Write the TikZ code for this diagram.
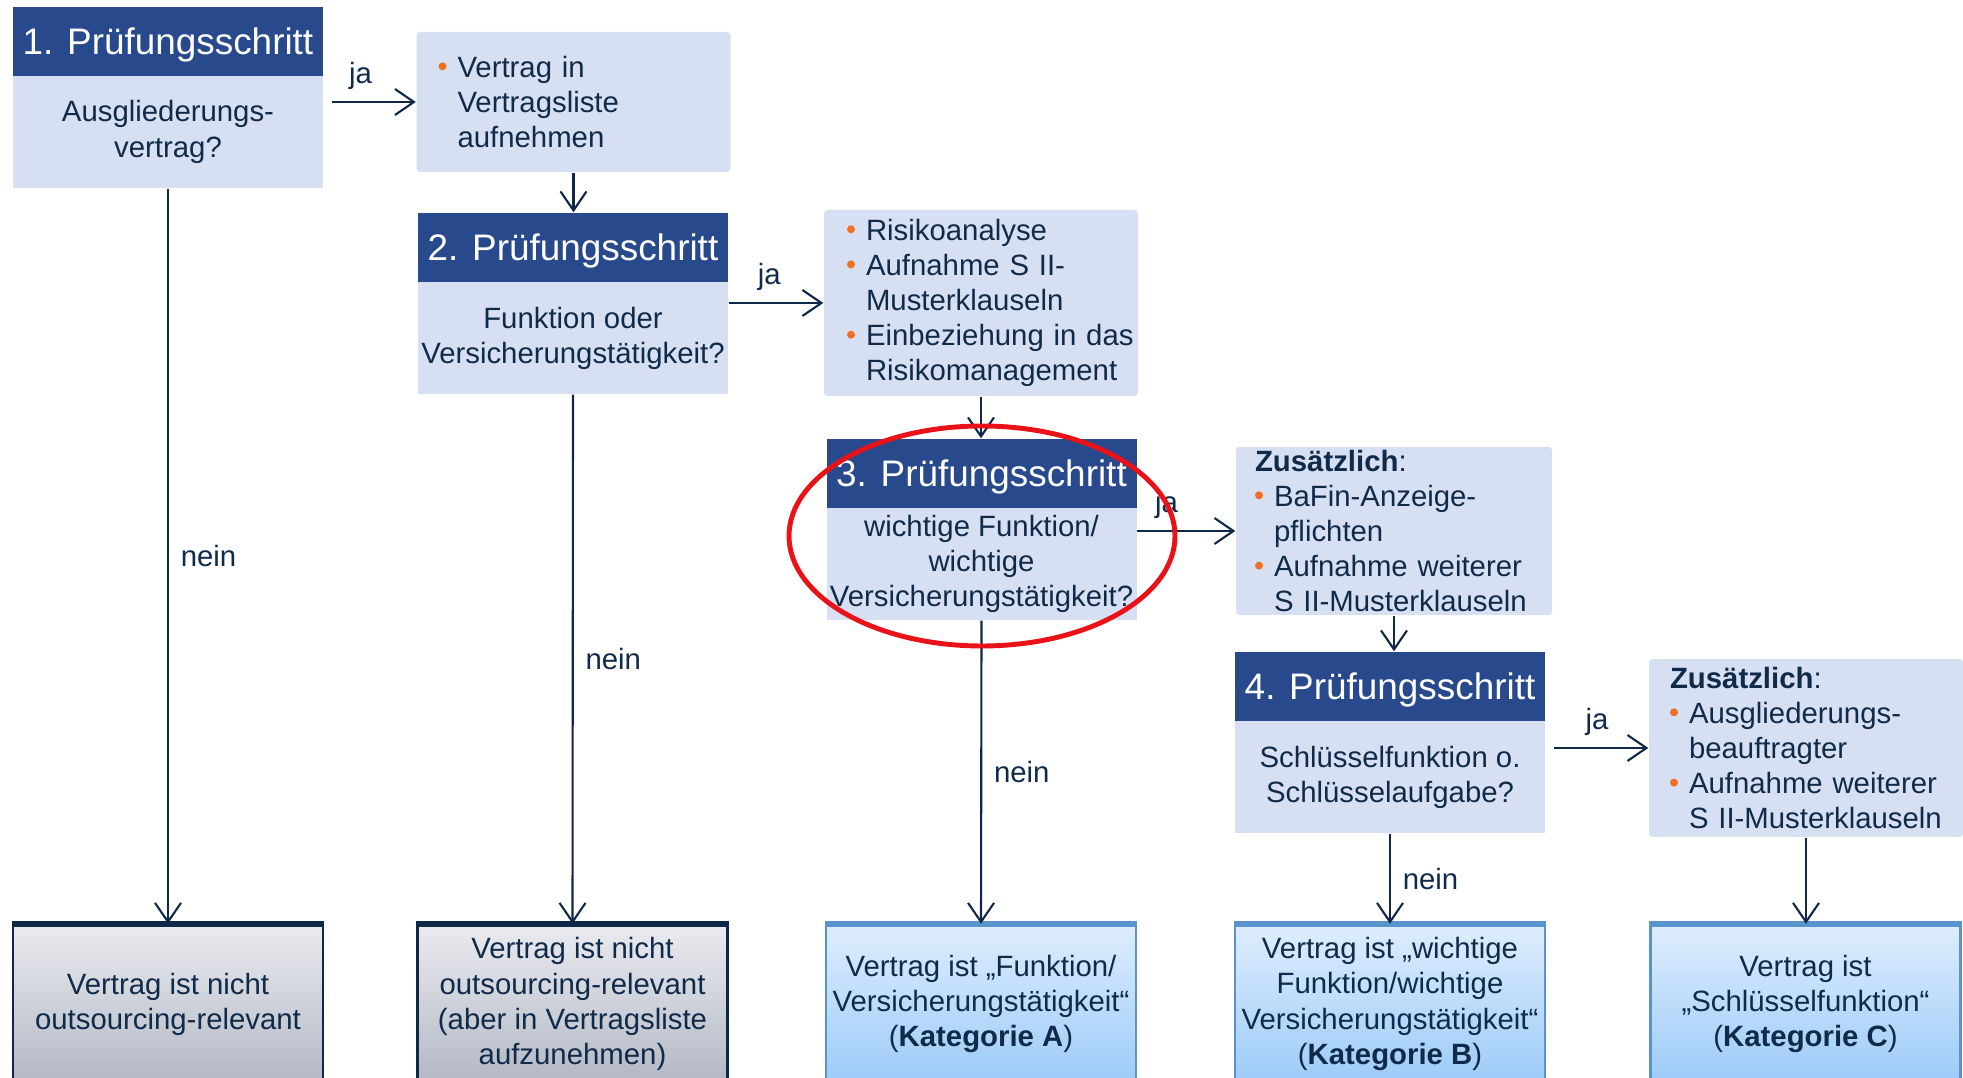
\documentclass[tikz,border=0pt]{standalone}
\usepackage{fontspec}
\setmainfont{Liberation Sans}
\usepackage{xcolor}
\usetikzlibrary{arrows.meta}

\definecolor{headblue}{RGB}{40,73,139}
\definecolor{bodyblue}{RGB}{214,224,242}
\definecolor{txt}{RGB}{16,42,74}
\definecolor{arrowc}{RGB}{15,40,72}
\definecolor{orng}{RGB}{240,112,34}
\definecolor{graytop}{RGB}{234,235,239}
\definecolor{graybot}{RGB}{178,184,196}
\definecolor{bluetop}{RGB}{222,237,253}
\definecolor{bluebot}{RGB}{156,203,248}
\definecolor{blueedge}{RGB}{88,148,203}
\definecolor{ringred}{RGB}{232,18,24}

\newcommand{\bul}{\makebox[1.9mm][l]{\tikz[baseline=0pt]\fill[orng] (0.04cm,0.11cm) circle (0.04cm);}}
\newcommand{\ind}{\hspace*{1.9mm}}

\begin{document}
\begin{tikzpicture}
     [
     head/.style={rectangle, fill=headblue, text=white, font=\fontsize{10.5}{12}\selectfont, minimum width=3.1cm, minimum height=0.69cm, text height=3mm, text depth=0.3mm, inner sep=0pt},
     ask/.style={rectangle, fill=bodyblue, text=txt, font=\fontsize{8.35}{10}\selectfont, align=center, minimum width=3.1cm, minimum height=1.12cm, inner sep=0pt},
     infobox/.style={rectangle, rounded corners=1pt, fill=bodyblue, text=txt, font=\fontsize{8.35}{10}\selectfont, align=left, text width=2.7cm, inner xsep=0.22cm, inner ysep=0pt},
     endgray/.style={rectangle, draw=arrowc, line width=0.7pt, top color=graytop, bottom color=graybot, text=txt, font=\fontsize{8.35}{10}\selectfont, align=center, minimum width=3.1cm, minimum height=1.58cm, inner sep=0pt},
     endblue/.style={rectangle, draw=blueedge, line width=0.7pt, top color=bluetop, bottom color=bluebot, text=txt, font=\fontsize{8.35}{10}\selectfont, align=center, minimum width=3.1cm, minimum height=1.58cm, inner sep=0pt},
     arr/.style={draw=arrowc, line width=0.6pt, -{Straight Barb[length=1.9mm,width=2.6mm]}},
     lbl/.style={text=txt, font=\fontsize{8.35}{10}\selectfont},
     ring/.style={draw=ringred, line width=1.4pt},
     ]
 \useasboundingbox (0,0) rectangle (19.63,-10.78);
 \clip (0,0) rectangle (19.63,-10.78);

 % steps
 \node at (1.68,-0.415) [head] (s1h) {1. Prüfungsschritt};
 \node at (1.68,-1.32) [ask] (s1) {Ausgliederungs-\\vertrag?};
 \node at (5.73,-2.475) [head] (s2h) {2. Prüfungsschritt};
 \node at (5.73,-3.38) [ask] (s2) {Funktion oder\\Versicherungstätigkeit?};
 \node at (9.815,-4.735) [head] (s3h) {3. Prüfungsschritt};
 \node at (9.815,-5.64) [ask] (s3) {wichtige Funktion/\\wichtige\\Versicherungstätigkeit?};
 \node at (13.9,-6.865) [head] (s4h) {4. Prüfungsschritt};
 \node at (13.9,-7.77) [ask] (s4) {Schlüsselfunktion o.\\Schlüsselaufgabe?};

 % measures
 \node at (5.735,-1.02) [infobox, minimum height=1.40cm] (vt) {\bul Vertrag in\\\ind Vertragsliste\\\ind aufnehmen};
 \node at (9.81,-3.03) [infobox, minimum height=1.86cm, inner xsep=0.23cm, text width=2.68cm] (risk) {\bul Risikoanalyse\\\bul \mbox{Aufnahme S II-}\\\ind Musterklauseln\\\bul \mbox{Einbeziehung in das}\\\ind \mbox{Risikomanagement}};
 \node at (13.94,-5.31) [infobox, minimum height=1.68cm, inner xsep=0.19cm, text width=2.78cm] (z1) {\textbf{Zusätzlich}:\\\bul BaFin-Anzeige-\\\ind pflichten\\\bul \mbox{Aufnahme weiterer}\\\ind \mbox{S II-Musterklauseln}};
 \node at (18.06,-7.48) [infobox, minimum height=1.78cm, inner xsep=0.21cm, text width=2.72cm] (z2) {\textbf{Zusätzlich}:\\\bul Ausgliederungs-\\\ind beauftragter\\\bul \mbox{Aufnahme weiterer}\\\ind \mbox{S II-Musterklauseln}};

 % results
 \node at (1.68,-10.04) [endgray] (b1) {Vertrag ist nicht\\outsourcing-relevant};
 \node at (5.725,-10.04) [endgray] (b2) {Vertrag ist nicht\\outsourcing-relevant\\(aber in Vertragsliste\\aufzunehmen)};
 \node at (9.81,-10.04) [endblue] (b3) {Vertrag ist „Funktion/\\Versicherungstätigkeit“\\(\textbf{Kategorie A})};
 \node at (13.9,-10.04) [endblue] (b4) {Vertrag ist „wichtige\\Funktion/wichtige\\Versicherungstätigkeit“\\(\textbf{Kategorie B})};
 \node at (18.055,-10.04) [endblue] (b5) {Vertrag ist\\„Schlüsselfunktion“\\(\textbf{Kategorie C})};
 \draw[arrowc, line width=1.8pt] (b1.north west) -- (b1.north east);
 \draw[arrowc, line width=1.8pt] (b2.north west) -- (b2.north east);
 \draw[blueedge, line width=1.8pt] (b3.north west) -- (b3.north east);
 \draw[blueedge, line width=1.8pt] (b4.north west) -- (b4.north east);
 \draw[blueedge, line width=1.8pt] (b5.north west) -- (b5.north east);

 % ja
 \draw[arr, shorten <=0.08cm] (vt.west -| s1.east) -- node[lbl, above, pos=0.4] {ja} (vt.west);
 \draw[arr] (risk.west -| s2.east) -- node[lbl, above, pos=0.43] {ja} (risk.west);
 \draw[arr] (z1.west -| s3.east) -- node[lbl, above, pos=0.3] {ja} (z1.west);
 \draw[arr, shorten <=0.08cm] (z2.west -| s4.east) -- node[lbl, above] {ja} (z2.west);

 % weiter
 \draw[arr] (vt.south) -- (vt.south |- s2h.north);
 \draw[arr] (risk.south) -- (risk.south |- s3h.north);
 \draw[arr] (z1.south) -- (z1.south |- s4h.north);
 \draw[arr] (z2.south) -- (z2.south |- b5.north);

 % nein
 \draw[arr] (s1.south) -- node[lbl, right] {nein} (b1.north);
 \draw[arr] (s2.south) -- node[lbl, right] {nein} (b2.north);
 \draw[arr] (s3.south) -- node[lbl, right] {nein} (b3.north);
 \draw[arr] (s4.south) -- node[lbl, right] {nein} (b4.north);

 \draw[ring] (9.82,-5.36) ellipse [x radius=1.93, y radius=1.10];
\end{tikzpicture}
\end{document}
